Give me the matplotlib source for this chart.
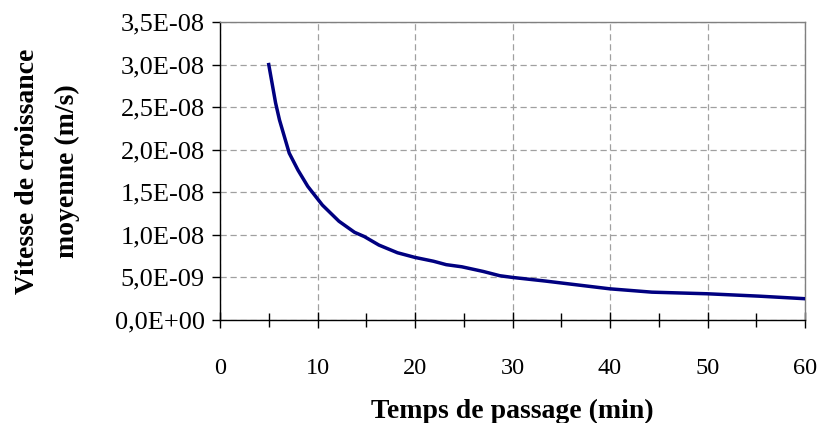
import matplotlib
matplotlib.use("Agg")
import matplotlib.pyplot as plt
from matplotlib.ticker import FuncFormatter, MultipleLocator

time_min = [5, 5.7, 6.1, 7.1, 8, 9, 10.5, 12.2, 13.8, 14.8, 16.3, 18.2, 20, 21.9,
            23.2, 24.8, 27, 28.7, 30, 33.4, 36.8, 40, 44.3, 50, 55.3, 60]
speed = [3.0e-8, 2.55e-8, 2.35e-8, 1.96e-8, 1.76e-8, 1.57e-8, 1.35e-8, 1.16e-8,
         1.03e-8, 0.98e-8, 0.88e-8, 0.79e-8, 0.735e-8, 0.69e-8, 0.65e-8, 0.625e-8,
         0.57e-8, 0.52e-8, 0.50e-8, 0.457e-8, 0.41e-8, 0.366e-8, 0.327e-8,
         0.308e-8, 0.28e-8, 0.25e-8]
x_label = "Temps de passage (min)"
y_label = "Vitesse de croissance\nmoyenne (m/s)"

plt.rcParams['font.family'] = ['Liberation Serif', 'DejaVu Serif']

fig = plt.figure(figsize=(8.18, 4.23), dpi=100)
ax = fig.add_axes([220/818, 1-320/423, (805-220)/818, (320-22)/423])

ax.plot(time_min, speed, color='#000080', lw=2.5, solid_joinstyle='round', zorder=3)

ax.set_xlim(0, 60)
ax.set_ylim(0, 3.5e-8)
ax.xaxis.set_major_locator(MultipleLocator(10))
ax.xaxis.set_minor_locator(MultipleLocator(5))
ax.yaxis.set_major_locator(MultipleLocator(0.5e-8))

def fmt(v, pos):
    return f"{v:.1E}".replace('.', ',')
ax.yaxis.set_major_formatter(FuncFormatter(fmt))

ax.grid(True, which='major', color='#a0a0a0', linestyle=(0, (5, 3)), lw=0.9)
for s in ['top', 'right']:
    ax.spines[s].set_color('#808080')
    ax.spines[s].set_linewidth(1.0)
for s in ['left', 'bottom']:
    ax.spines[s].set_color('#000000')
    ax.spines[s].set_linewidth(1.0)

ax.tick_params(axis='y', direction='out', length=6, width=1, labelsize=19, pad=5)
ax.tick_params(axis='x', which='major', direction='inout', length=12, width=1,
               labelsize=17.5, pad=21)
ax.tick_params(axis='x', which='minor', direction='inout', length=10, width=1)

ax.set_xlabel(x_label, fontsize=20, fontweight='bold', labelpad=15)
ax.yaxis.set_label_coords(-0.24, 0.5)
ax.set_ylabel(y_label, fontsize=20, fontweight='bold', linespacing=1.75)

fig.savefig("out.png", dpi=100)
